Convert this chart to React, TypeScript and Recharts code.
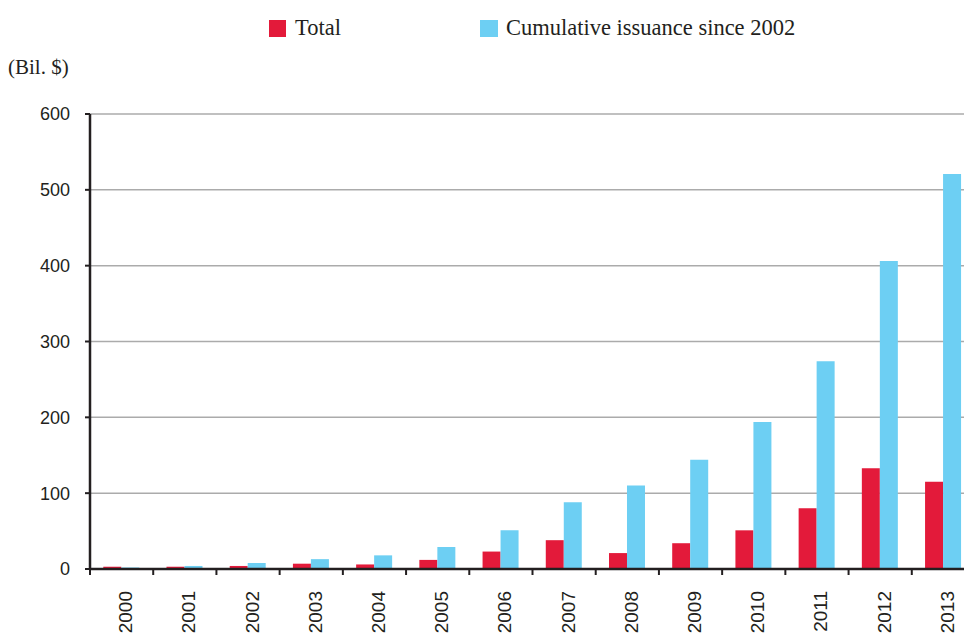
import React from 'react';
import {
  BarChart,
  Bar,
  XAxis,
  YAxis,
  CartesianGrid,
  Legend,
} from 'recharts';

const years = [
  '2000', '2001', '2002', '2003', '2004', '2005', '2006',
  '2007', '2008', '2009', '2010', '2011', '2012', '2013',
];
const total = [3, 3, 4, 7, 6, 12, 23, 38, 21, 34, 51, 80, 133, 115];
const cumulative = [2, 4, 8, 13, 18, 29, 51, 88, 110, 144, 194, 274, 406, 521];
const yTicks = [0, 100, 200, 300, 400, 500, 600];

const RED = '#E31A3A';
const BLUE = '#6DCFF3';
const INK = '#231F20';
const SERIF = '"Liberation Serif", "Times New Roman", serif';
const SANS = '"Liberation Sans", Arial, sans-serif';

const data = years.map((year, i) => ({
  year,
  total: total[i],
  cumulative: cumulative[i],
}));

// label plus a boundary tick on the left edge of each band (and the right edge of the last)
const YearTick = ({ x, y, payload, index, visibleTicksCount }: any) => {
  const half = payload.offset ?? 0;
  const lx = x + 4;
  const ly = y + 22;
  return (
    <g>
      <line x1={x - half} x2={x - half} y1={y} y2={y + 6} stroke={INK} strokeWidth={2} />
      {index === visibleTicksCount - 1 && (
        <line x1={x + half} x2={x + half} y1={y} y2={y + 6} stroke={INK} strokeWidth={2} />
      )}
      <text
        x={lx}
        y={ly}
        transform={`rotate(-90 ${lx} ${ly})`}
        textAnchor="end"
        dominantBaseline="central"
        fontFamily={SANS}
        fontSize={19}
        fill={INK}
      >
        {payload.value}
      </text>
    </g>
  );
};

const LegendBox = () => (
  <div style={{ display: 'flex', alignItems: 'center', fontFamily: SERIF, fontSize: 22.5, color: INK }}>
    <span style={{ display: 'inline-block', width: 17, height: 17, background: RED, marginLeft: 269 }} />
    <span style={{ marginLeft: 9 }}>Total</span>
    <span style={{ display: 'inline-block', width: 18, height: 17, background: BLUE, marginLeft: 139 }} />
    <span style={{ marginLeft: 8 }}>Cumulative issuance since 2002</span>
  </div>
);

export default function App() {
  return (
    <div style={{ position: 'absolute', left: 0, top: 0, width: 964, height: 633, overflow: 'hidden', background: '#fff' }}>
      <BarChart
        width={980}
        height={633}
        data={data}
        margin={{ top: 114, right: 5, left: 0, bottom: 0 }}
        barCategoryGap="21%"
        barGap={0}
      >
        <CartesianGrid horizontal vertical={false} stroke="#ABABAB" strokeWidth={1.5} />
        <XAxis
          dataKey="year"
          axisLine={{ stroke: INK, strokeWidth: 2.5 }}
          tickLine={false}
          tickSize={0}
          tickMargin={0}
          interval={0}
          height={64}
          tick={<YearTick />}
        />
        <YAxis
          width={90}
          domain={[0, 600]}
          ticks={yTicks}
          interval={0}
          tickSize={5}
          tickMargin={15}
          tickLine={{ stroke: INK, strokeWidth: 2 }}
          axisLine={{ stroke: INK, strokeWidth: 2.5 }}
          tick={{ fontFamily: SANS, fontSize: 18, fill: INK }}
          label={{
            content: ({ viewBox }: any) => (
              <text
                x={viewBox.x + 8}
                y={viewBox.y - 40}
                fontFamily={SERIF}
                fontSize={21}
                fill={INK}
              >
                (Bil. $)
              </text>
            ),
          }}
        />
        <Legend
          verticalAlign="middle"
          content={<LegendBox />}
          wrapperStyle={{ top: 15, left: 0, width: 964 }}
        />
        <Bar dataKey="total" name="Total" fill={RED} isAnimationActive={false} />
        <Bar dataKey="cumulative" name="Cumulative issuance since 2002" fill={BLUE} isAnimationActive={false} />
      </BarChart>
    </div>
  );
}
